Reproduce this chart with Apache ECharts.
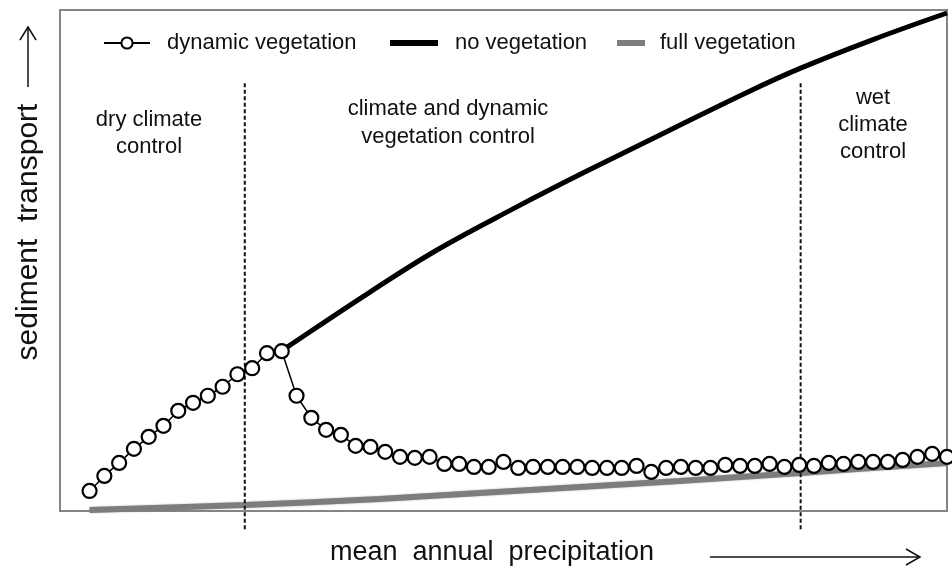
<!DOCTYPE html>
<html>
<head>
<meta charset="utf-8">
<script src="https://cdn.jsdelivr.net/npm/echarts@6/dist/echarts.min.js"></script>
<style>html,body{margin:0;padding:0;background:#fff}#c{width:952px;height:577px}</style>
</head>
<body>
<div id="c"></div>
<script>
// precipitation steps (index) and sediment transport values (relative units 0-100)
var dynamicVeg = [4.0,7.0,9.6,12.4,14.8,17.0,20.0,21.6,23.0,24.8,27.3,28.5,31.5,31.9,23.0,18.6,16.2,15.2,13.0,12.8,
  11.8,10.8,10.6,10.8,9.4,9.4,8.8,8.8,9.8,8.6,8.8,8.8,8.8,8.8,8.6,8.6,8.6,9.0,7.8,8.6,
  8.8,8.6,8.6,9.2,9.0,9.0,9.4,8.8,9.2,9.0,9.6,9.4,9.8,9.8,9.8,10.2,10.8,11.4,10.8];
var noVegX = [13.0,13.36,18.97,23.5,28.9,33.4,39.1,44.5,48.1,53.0,58.0];
var noVegY = [31.9,32.7,43.7,52.1,60.7,67.5,75.8,83.6,88.4,94.1,99.4];
var fullVegX = [0.0,10.5,19.6,29.8,39.9,48.1,58.0];
var fullVegY = [0.2,1.2,2.4,4.2,6.0,7.6,9.6];
var regionBounds = [10.5, 48.1];
var seriesNames = ['dynamic vegetation','no vegetation','full vegetation'];

var FONT = '"Liberation Sans", Arial, sans-serif';
var chart = echarts.init(document.getElementById('c'), null, {renderer:'canvas'});
function zip(xs, ys){ return xs.map(function(x,i){return [x, ys[i]];}); }

var legendText = {fontSize:22, color:'#111', fontFamily:FONT};
chart.setOption({
  animation:false,
  grid:{left:60, right:5, top:10, bottom:66, show:true, borderColor:'#858585', borderWidth:2, backgroundColor:'#fff'},
  xAxis:{type:'value', min:-2, max:58, axisLine:{show:false}, axisTick:{show:false}, axisLabel:{show:false}, splitLine:{show:false}},
  yAxis:{type:'value', min:0, max:100, axisLine:{show:false}, axisTick:{show:false}, axisLabel:{show:false}, splitLine:{show:false}},
  legend:[
    {data:[seriesNames[0]], left:98, top:27, itemWidth:46, itemHeight:14, textStyle:Object.assign({padding:[0,0,0,12]}, legendText)},
    {data:[{name:seriesNames[1], icon:'rect'}], left:385, top:27, itemWidth:48, itemHeight:6, textStyle:Object.assign({padding:[0,0,0,12]}, legendText)},
    {data:[{name:seriesNames[2], icon:'rect'}], left:612, top:27, itemWidth:28, itemHeight:6, textStyle:Object.assign({padding:[0,0,0,10]}, legendText)}
  ],
  series:[
    {name:seriesNames[2], type:'line', data:zip(fullVegX, fullVegY), smooth:0.3, symbol:'none', z:2,
      color:'#7d7d7d', lineStyle:{color:'#7d7d7d', width:6, shadowColor:'rgba(120,120,120,0.5)', shadowBlur:2}},
    {name:seriesNames[1], type:'line', data:zip(noVegX, noVegY), smooth:0.4, symbol:'none', z:3,
      color:'#000', lineStyle:{color:'#000', width:5}},
    {name:'dividers', type:'custom', z:4, clip:false, silent:true,
      data:regionBounds.map(function(b){return [b];}),
      renderItem:function(params, api){
        var top = api.coord([api.value(0), 85.4]);
        var bot = api.coord([api.value(0), -3.8]);
        return {type:'line', shape:{x1:top[0], y1:top[1], x2:bot[0], y2:bot[1]},
          style:{stroke:'#111', lineWidth:2, lineDash:[4,2.5]}};
      }},
    {name:seriesNames[0], type:'line', data:dynamicVeg.map(function(v,i){return [i,v];}), z:5,
      symbol:'circle', symbolSize:14, color:'#000',
      itemStyle:{color:'#fff', borderColor:'#000', borderWidth:2.2},
      lineStyle:{color:'#000', width:1.5}}
  ],
  graphic:[
    {type:'text', x:149, y:133, style:{text:'dry climate\ncontrol', font:'22px '+FONT, fill:'#111', align:'center', verticalAlign:'middle', lineHeight:27}},
    {type:'text', x:448, y:123, style:{text:'climate and dynamic\nvegetation control', font:'22px '+FONT, fill:'#111', align:'center', verticalAlign:'middle', lineHeight:28}},
    {type:'text', x:873, y:125, style:{text:'wet\nclimate\ncontrol', font:'22px '+FONT, fill:'#111', align:'center', verticalAlign:'middle', lineHeight:27}},
    {type:'text', x:29, y:232, rotation:Math.PI/2, style:{text:'sediment  transport', font:'30px '+FONT, fill:'#111', align:'center', verticalAlign:'middle'}},
    {type:'text', x:492, y:553, style:{text:'mean  annual  precipitation', font:'27px '+FONT, fill:'#111', align:'center', verticalAlign:'middle'}},
    {type:'polyline', shape:{points:[[28,87],[28,27]]}, style:{stroke:'#111', lineWidth:1.5, fill:null}},
    {type:'polyline', shape:{points:[[20,40],[28,27],[36,40]]}, style:{stroke:'#111', lineWidth:1.5, fill:null}},
    {type:'polyline', shape:{points:[[710,557],[920,557]]}, style:{stroke:'#111', lineWidth:1.5, fill:null}},
    {type:'polyline', shape:{points:[[906,549],[920,557],[906,565]]}, style:{stroke:'#111', lineWidth:1.5, fill:null}}
  ]
});
</script>
</body>
</html>
